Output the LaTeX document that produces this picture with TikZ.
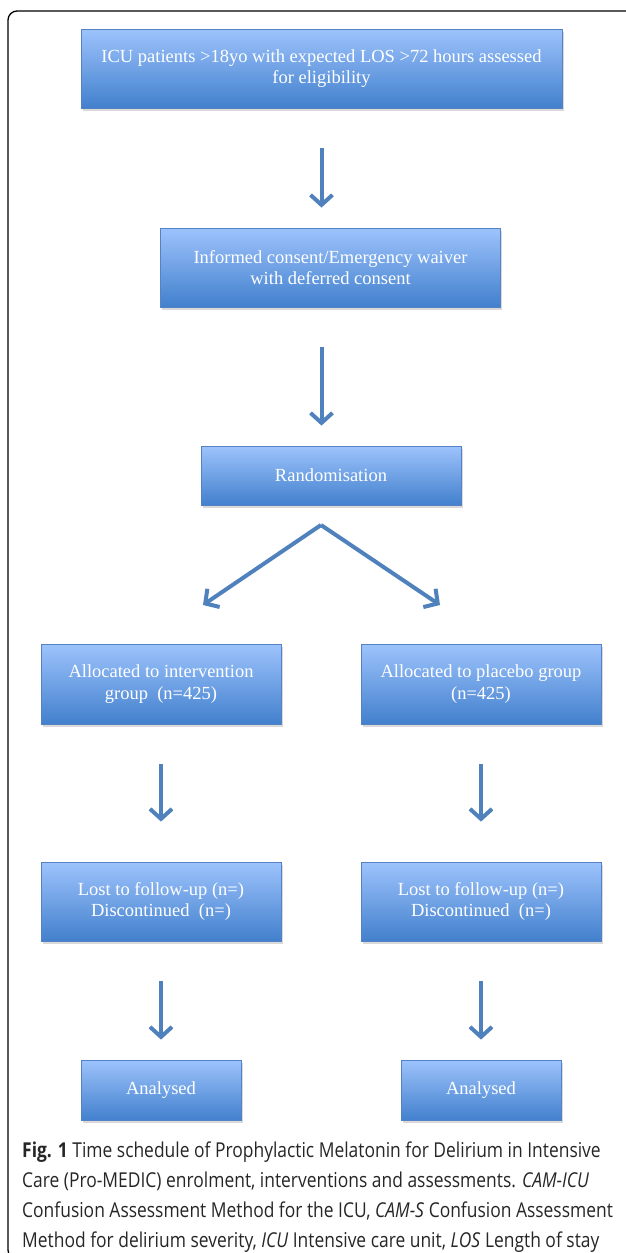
\documentclass[tikz,border=0pt]{standalone}
\usepackage{fontspec}
\usepackage{tikz}
\usetikzlibrary{arrows.meta,shadows,calc}
\setmainfont{Liberation Serif}
\newfontfamily\capfont[FakeStretch=0.85]{Open Sans}

\definecolor{boxtop}{RGB}{157,195,252}
\definecolor{boxbot}{RGB}{66,128,205}
\definecolor{boxedge}{RGB}{84,130,196}
\definecolor{arrowblue}{RGB}{79,129,189}

\tikzset{
  flowbox/.style={draw=boxedge, line width=0.8pt, top color=boxtop, bottom color=boxbot,
    text=white, align=center, font=\fontsize{18.5}{21.5}\selectfont, inner sep=0pt,
    drop shadow={shadow xshift=1.5pt, shadow yshift=-3pt, opacity=0.3}},
  flowarrow/.style={draw=arrowblue, line width=4pt,
    -{Straight Barb[length=10pt,width=22pt,line width=4pt]}}
}

\begin{document}
\begin{tikzpicture}[x=1pt,y=-1pt]
\useasboundingbox (0,0) rectangle (625,1253);
% frame
\draw[line width=1.3pt, rounded corners=9pt] (630,11) -- (8,11) -- (8,1259) -- (40,1259);

% boxes
\node[flowbox, minimum width=481pt, minimum height=79pt] (screen) at (321.5,68.5)
  {ICU patients >18yo with expected LOS >72 hours assessed\\for eligibility};
\node[flowbox, minimum width=340pt, minimum height=79pt] (consent) at (330.5,267.5)
  {Informed consent/Emergency waiver\\with deferred consent};
\node[flowbox, minimum width=260pt, minimum height=59pt] (random) at (331,475.5)
  {Randomisation};
\node[flowbox, minimum width=240pt, minimum height=80pt] (interv) at (161,684)
  {Allocated to intervention\\group~ (n=425)};
\node[flowbox, minimum width=240pt, minimum height=80pt] (placebo) at (481,684)
  {Allocated to placebo group\\(n=425)};
\node[flowbox, minimum width=240pt, minimum height=79pt] (lostA) at (161,901.5)
  {Lost to follow-up (n=)\\Discontinued~ (n=)};
\node[flowbox, minimum width=240pt, minimum height=79pt] (lostB) at (481,901.5)
  {Lost to follow-up (n=)\\Discontinued~ (n=)};
\node[flowbox, minimum width=160pt, minimum height=60pt] (doneA) at (161,1090)
  {Analysed};
\node[flowbox, minimum width=160pt, minimum height=60pt] (doneB) at (481,1090)
  {Analysed};

% arrows
\draw[flowarrow, shorten <=40pt, shorten >=20pt] (screen.south) -- (screen.south |- consent.north);
\draw[flowarrow, shorten <=40pt, shorten >=20pt] (screen.south |- consent.south) -- (screen.south |- random.north);
\coordinate (split) at (321,525);
\coordinate (tipA) at (203,605);
\coordinate (tipB) at (440,605);
\draw[flowarrow] (split) -- (tipA);
\draw[flowarrow] (split) -- (tipB);
\draw[flowarrow, shorten <=40pt, shorten >=40pt] (interv.south) -- (lostA.north);
\draw[flowarrow, shorten <=40pt, shorten >=40pt] (placebo.south) -- (lostB.north);
\draw[flowarrow, shorten <=40pt, shorten >=20pt] (lostA.south) -- (doneA.north);
\draw[flowarrow, shorten <=40pt, shorten >=20pt] (lostB.south) -- (doneB.north);

% caption (base = last line)
\node[anchor=base west, align=left, inner sep=0pt, text=black!85,
  font=\capfont\fontsize{20.5}{30}\selectfont] (caption) at (22,1247.5)
  {\textbf{Fig. 1} Time schedule of Prophylactic Melatonin for Delirium in Intensive\\
   Care (Pro-MEDIC) enrolment, interventions and assessments. \textit{CAM-ICU}\\
   Confusion Assessment Method for the ICU, \textit{CAM-S} Confusion Assessment\\
   Method for delirium severity, \textit{ICU} Intensive care unit, \textit{LOS} Length of stay};
\end{tikzpicture}
\end{document}
